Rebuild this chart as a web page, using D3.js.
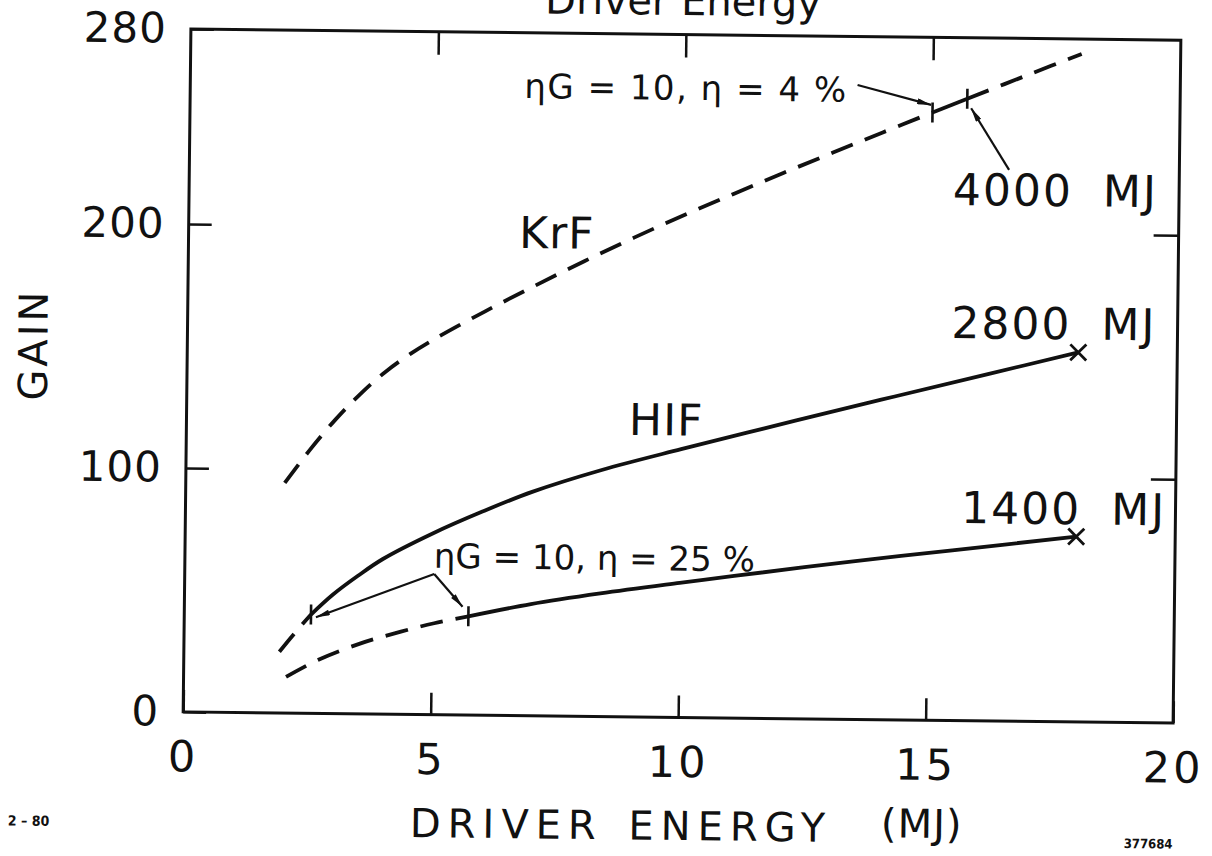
<!DOCTYPE html>
<html>
<head>
<meta charset="utf-8">
<script src="https://cdn.jsdelivr.net/npm/d3@7"></script>
<style>
  body { margin: 0; background: #fff; }
  svg text { font-family: "DejaVu Sans", sans-serif; fill: #111; }
</style>
</head>
<body>
<svg></svg>
<script>

// values (energy in MJ, gain)
const krfEnergy = [2.0, 2.5, 3.0, 3.5, 4.0, 4.5, 5.0, 6.0, 7.0, 8.0, 9.0, 10.0, 11.0, 12.0, 13.0, 14.0, 15.0, 15.7, 17.0, 18.0];
const krfGain   = [94.3, 108, 120.3, 131.0, 140.2, 147.7, 154.1, 165.5, 176.2, 186.6, 196.5, 205.9, 214.9, 223.7, 232.3, 240.8, 249.2, 255.0, 265.7, 273.9];

const hifEnergy = [1.93, 2.15, 2.36, 2.56, 3.0, 3.5, 4.0, 5.0, 6.0, 7.0, 8.4, 10.0, 12.3, 14.3, 16.2, 18.0];
const hifGain   = [25.1, 30.7, 35.8, 40.5, 48.8, 56.6, 63.6, 74.3, 83.5, 91.8, 101.1, 110.0, 122.2, 132.6, 142.3, 151.5];

const hifLowEnergy = [2.07, 2.71, 3.57, 4.38, 5.05, 5.74, 7.0, 8.4, 10.0, 11.1, 13.5, 15.5, 18.0];
const hifLowGain   = [14.8, 21.9, 28.9, 33.9, 37.5, 40.5, 45.8, 50.5, 55.2, 58.3, 64.8, 69.8, 76.0];

// where each curve changes from dashed to solid
const krfSolidFrom = 15.0, krfSolidTo = 15.7;
const hifSolidFrom = 2.56;
const hifLowSolidFrom = 5.74;

// small bars across the curves, and the x end points
const tickEnergy = [15.0, 15.7, 2.56, 5.74];
const tickGain   = [249.2, 255.0, 40.5, 40.5];
const endEnergy  = [18.0, 18.0];
const endGain    = [151.5, 76.0];
const endLabels  = ["2800 MJ", "1400 MJ"];

const xTicks = [0, 5, 10, 15, 20];
const yTicks = [0, 100, 200, 280];


const svgWidth = 1212;
const svgHeight = 856;

const svg = d3.select("svg")
    .attr("width", svgWidth)
    .attr("height", svgHeight);

const x = d3.scaleLinear().domain([0, 20]).range([187, 1177]);
const y = d3.scaleLinear().domain([0, 280]).range([717.5, 34.5]);

// the scanned sheet sits slightly turned
const g = svg.append("g")
    .attr("transform", "rotate(0.65, 681, 376)");

svg.append("defs").append("marker")
    .attr("id", "arrow")
    .attr("viewBox", "0 0 14 6")
    .attr("refX", 14)
    .attr("refY", 3)
    .attr("markerWidth", 15)
    .attr("markerHeight", 6)
    .attr("markerUnits", "userSpaceOnUse")
    .attr("orient", "auto")
  .append("path")
    .attr("d", "M0,0L14,3L0,6Z")
    .attr("fill", "#111");

// frame
g.append("rect")
    .attr("x", x(0))
    .attr("y", y(280))
    .attr("width", x(20) - x(0))
    .attr("height", y(0) - y(280))
    .attr("fill", "none")
    .attr("stroke", "#111")
    .attr("stroke-width", 3);

// axes, ticks pointing inwards
const bottomAxis = g.append("g")
    .attr("transform", "translate(0," + y(0) + ")")
    .call(d3.axisBottom(x).tickValues(xTicks).tickSize(-22).tickPadding(29));

const leftAxis = g.append("g")
    .attr("transform", "translate(" + x(0) + ",0)")
    .call(d3.axisLeft(y).tickValues(yTicks).tickSize(-23).tickPadding(24));

g.append("g")
    .attr("transform", "translate(0," + y(280) + ")")
    .call(d3.axisTop(x).tickValues([5, 10, 15]).tickSize(-23).tickFormat(""));

g.append("g")
    .attr("transform", "translate(" + x(20) + ",0)")
    .call(d3.axisRight(y).tickValues([100, 200]).tickSize(-25).tickFormat(""));

g.selectAll(".domain").remove();
g.selectAll(".tick line").attr("stroke", "#111").attr("stroke-width", 2.5);
g.selectAll(".tick text")
    .attr("fill", "#111")
    .style("font-family", "DejaVu Sans")
    .style("font-size", "42px")
    .style("letter-spacing", "1px");
bottomAxis.selectAll(".tick text").style("font-size", "43px").style("letter-spacing", "3px");


// curves
const line = d3.line()
    .x(d => x(d[0]))
    .y(d => y(d[1]))
    .curve(d3.curveCatmullRom.alpha(0.5));

const krf = krfEnergy.map((e, i) => [e, krfGain[i]]);
const hif = hifEnergy.map((e, i) => [e, hifGain[i]]);
const hifLow = hifLowEnergy.map((e, i) => [e, hifLowGain[i]]);

const pieces = [
    {pts: krf.filter(d => d[0] <= krfSolidFrom), dash: true},
    {pts: krf.filter(d => d[0] >= krfSolidFrom && d[0] <= krfSolidTo), dash: false},
    {pts: krf.filter(d => d[0] >= krfSolidTo), dash: true},
    {pts: hif.filter(d => d[0] <= hifSolidFrom), dash: true},
    {pts: hif.filter(d => d[0] >= hifSolidFrom), dash: false},
    {pts: hifLow.filter(d => d[0] <= hifLowSolidFrom), dash: true},
    {pts: hifLow.filter(d => d[0] >= hifLowSolidFrom), dash: false}
];

g.selectAll(".curve")
    .data(pieces)
    .enter()
    .append("path")
    .attr("class", "curve")
    .attr("d", d => line(d.pts))
    .attr("fill", "none")
    .attr("stroke", "#111")
    .attr("stroke-width", 3.8)
    .attr("stroke-dasharray", d => d.dash ? "23,13" : null);

// bars across the curves
g.selectAll(".bar-mark")
    .data(tickEnergy.map((e, i) => [e, tickGain[i]]))
    .enter()
    .append("line")
    .attr("class", "bar-mark")
    .attr("x1", d => x(d[0]))
    .attr("x2", d => x(d[0]))
    .attr("y1", d => y(d[1]) - 10)
    .attr("y2", d => y(d[1]) + 10)
    .attr("stroke", "#111")
    .attr("stroke-width", 2.6);

// x marks at the end of HIF curves
g.selectAll(".end-mark")
    .data(endEnergy.map((e, i) => [e, endGain[i]]))
    .enter()
    .append("path")
    .attr("class", "end-mark")
    .attr("d", d => {
        const cx = x(d[0]), cy = y(d[1]);
        return "M" + (cx - 8) + "," + (cy - 8) + "L" + (cx + 8) + "," + (cy + 8) +
               "M" + (cx - 8) + "," + (cy + 8) + "L" + (cx + 8) + "," + (cy - 8);
    })
    .attr("stroke", "#111")
    .attr("stroke-width", 2.8);


// labels
function label(text, e, gain, size, opts) {
    opts = opts || {};
    return g.append("text")
        .attr("x", x(e))
        .attr("y", y(gain))
        .attr("text-anchor", opts.anchor || "start")
        .style("font-size", size + "px")
        .style("letter-spacing", (opts.ls || 0) + "px")
        .style("word-spacing", (opts.ws || 0) + "px")
        .text(text);
}

label("KrF", 6.68, 191.7, 44, {ls: 1});
label("HIF", 8.94, 115.6, 44, {ls: 1});
label(endLabels[0], 15.43, 156.8, 44, {ls: 2, ws: 14});
label(endLabels[1], 15.67, 81, 44, {ls: 2, ws: 14});
label("4000 MJ", 15.43, 211.4, 44, {ls: 2, ws: 14});
label("\u03b7G = 10, \u03b7 = 4 %", 13.28, 253.2, 34, {anchor: "end", ls: 1.5});
label("\u03b7G = 10, \u03b7 = 25 %", 5.03, 60.2, 34, {ls: 0});

// arrows
const arrows = [
    [[13.48, 260.1], [14.97, 252.3]],
    [[16.56, 226.0], [15.78, 251.1]],
    [[5.04, 57.7], [2.66, 39.4]],
    [[5.04, 57.7], [5.62, 44.4]]
];

g.selectAll(".arrow")
    .data(arrows)
    .enter()
    .append("line")
    .attr("class", "arrow")
    .attr("x1", d => x(d[0][0]))
    .attr("y1", d => y(d[0][1]))
    .attr("x2", d => x(d[1][0]))
    .attr("y2", d => y(d[1][1]))
    .attr("stroke", "#111")
    .attr("stroke-width", 2.2)
    .attr("marker-end", "url(#arrow)");


// titles
g.append("text")
    .attr("x", 541)
    .attr("y", 15)
    .style("font-size", "40px")
    .text("Driver Energy");

g.append("text")
    .attr("transform", "translate(47,352) rotate(-90)")
    .attr("text-anchor", "middle")
    .style("font-size", "40px")
    .style("letter-spacing", "3px")
    .text("GAIN");

g.append("text")
    .attr("x", 415)
    .attr("y", 840)
    .style("font-size", "40px")
    .style("letter-spacing", "7px")
    .style("word-spacing", "6px")
    .text("DRIVER ENERGY");

g.append("text")
    .attr("x", 886)
    .attr("y", 835)
    .style("font-size", "40px")
    .style("letter-spacing", "1px")
    .text("(MJ)");

g.append("text")
    .attr("x", 13)
    .attr("y", 833)
    .style("font-family", "'Liberation Sans Narrow', 'DejaVu Sans Condensed', sans-serif")
    .style("font-weight", "bold")
    .style("font-size", "14px")
    .text("2 \u2013 80");

g.append("text")
    .attr("x", 1129)
    .attr("y", 843)
    .style("font-family", "'Liberation Sans Narrow', 'DejaVu Sans Condensed', sans-serif")
    .style("font-weight", "bold")
    .style("font-size", "13px")
    .text("377684");

</script>
</body>
</html>
